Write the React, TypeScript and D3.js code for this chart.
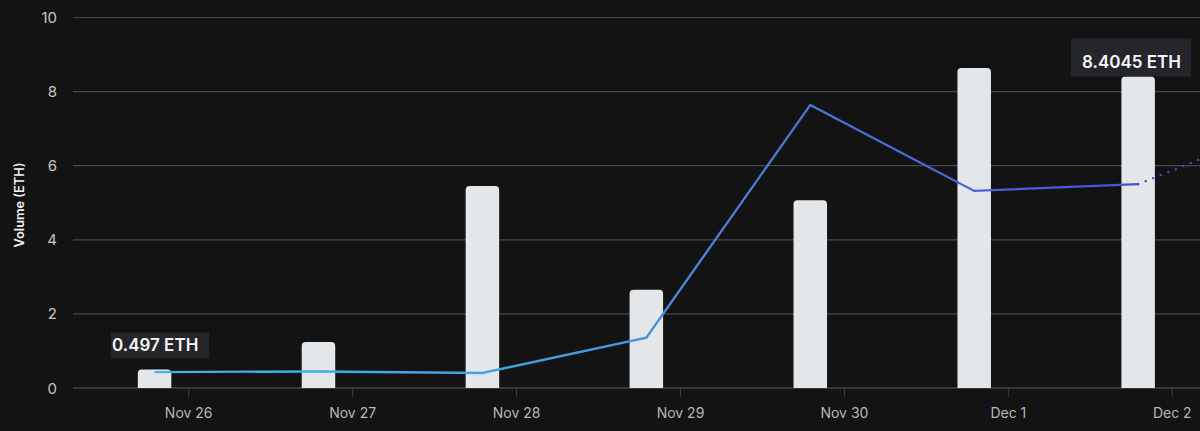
import React from "react";
import * as d3 from "d3";

const tickDates = ["2024-11-26", "2024-11-27", "2024-11-28", "2024-11-29", "2024-11-30", "2024-12-01", "2024-12-02"];
const tickLabels = ["Nov 26", "Nov 27", "Nov 28", "Nov 29", "Nov 30", "Dec 1", "Dec 2"];
const barDates = ["2024-11-25T19:00Z", "2024-11-26T19:00Z", "2024-11-27T19:00Z", "2024-11-28T19:00Z", "2024-11-29T19:00Z", "2024-11-30T19:00Z", "2024-12-01T19:00Z"];
const volumes = [0.497, 1.24, 5.45, 2.65, 5.07, 8.64, 8.4045];
const lineValues = [0.43, 0.445, 0.405, 1.36, 7.64, 5.32, 5.5];
const forecastDates = ["2024-12-01T19:00Z", "2024-12-02T04:00Z"];
const forecastValues = [5.5, 6.17];
const yTicks = [0, 2, 4, 6, 8, 10];

const W = 1200;
const H = 431;
const x = d3.scaleUtc().domain([new Date("2024-11-26T00:00Z"), new Date("2024-12-02T00:00Z")]).range([188.7, 1172.3]);
const y = d3.scaleLinear().domain([0, 10]).range([388, 17.5]);
const BAR_W = 33.5;
const R = 4;

function barPath(cx: number, v: number) {
  const l = cx - BAR_W / 2;
  const r = cx + BAR_W / 2;
  const t = y(v);
  const b = y(0);
  const rr = Math.min(R, b - t);
  return `M${l},${b}V${t + rr}Q${l},${t} ${l + rr},${t}H${r - rr}Q${r},${t} ${r},${t + rr}V${b}Z`;
}

const line = d3.line<[Date, number]>().x((d) => x(d[0])).y((d) => y(d[1]));
const linePts = barDates.map((d, i) => [new Date(d), lineValues[i]] as [Date, number]);
const forecastPts = forecastDates.map((d, i) => [new Date(d), forecastValues[i]] as [Date, number]);
const font = "Inter, 'Noto Sans', sans-serif";

export default function App() {
  return (
    <svg width={W} height={H} viewBox={`0 0 ${W} ${H}`} style={{ position: "fixed", left: 0, top: 0, background: "#131313", fontFamily: font }}>
      <defs>
        <linearGradient id="lineGrad" gradientUnits="userSpaceOnUse" x1={x(new Date(barDates[0]))} x2={x(new Date(barDates[6]))} y1="0" y2="0">
          <stop offset="0" stopColor="#3fb4e6" />
          <stop offset="0.4" stopColor="#43a0e0" />
          <stop offset="0.65" stopColor="#4a78d8" />
          <stop offset="1" stopColor="#4b50d8" />
        </linearGradient>
      </defs>
      {yTicks.map((t) => (
        <g key={t}>
          <line x1={73} x2={W} y1={y(t)} y2={y(t)} stroke={t === 0 ? "#5a5a5a" : "#484848"} strokeWidth={1.2} />
          <text x={57} y={y(t) + 5.5} textAnchor="end" fontSize={15} fill="#c8c8c8">{t}</text>
        </g>
      ))}
      {tickDates.map((d, i) => {
        const px = x(new Date(d + "T00:00Z"));
        return (
          <g key={d}>
            <line x1={px} x2={px} y1={388} y2={397} stroke="#3e3e3e" strokeWidth={1} />
            <text x={px} y={418} textAnchor="middle" fontSize={14} fill="#b8b8b8">{tickLabels[i]}</text>
          </g>
        );
      })}
      <text transform="translate(24,205) rotate(-90)" textAnchor="middle" fontSize={12.8} fontWeight={600} fill="#f2f2f2">Volume (ETH)</text>
      {barDates.map((d, i) => (
        <path key={d} d={barPath(x(new Date(d)), volumes[i])} fill="#e4e7ea" />
      ))}
      <path d={line(linePts) ?? ""} fill="none" stroke="url(#lineGrad)" strokeWidth={2.3} strokeLinejoin="miter" />
      <path d={line(forecastPts) ?? ""} fill="none" stroke="#4f42d0" strokeWidth={2.4} strokeLinecap="round" strokeDasharray="0.1 8" />
      <rect x={111} y={332.5} width={98} height={25.5} fill="#25262c" />
      <text x={112} y={351} fontSize={17} fontWeight={600} fill="#f7f7f7">{volumes[0]} ETH</text>
      <rect x={1071} y={38.5} width={120} height={38} fill="#25262c" />
      <text x={1131.5} y={67.5} textAnchor="middle" fontSize={17} fontWeight={600} fill="#f7f7f7">{volumes[6]} ETH</text>
    </svg>
  );
}
